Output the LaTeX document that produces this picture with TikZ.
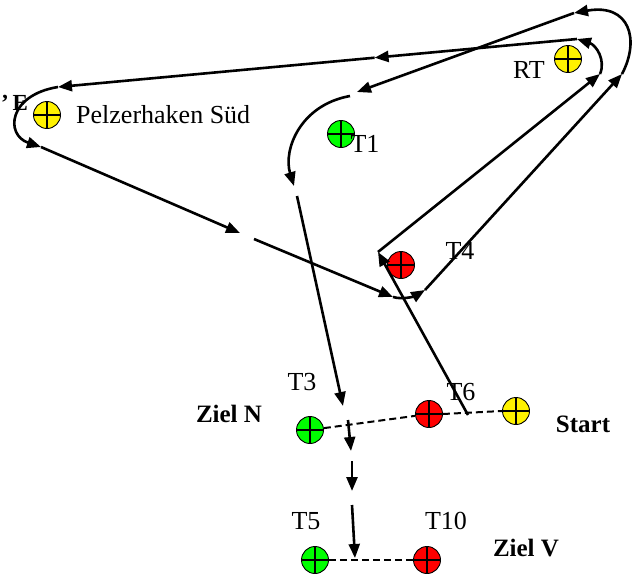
\documentclass[tikz,border=0pt]{standalone}
\usepackage{fontspec}
\setmainfont{Liberation Serif}
\usetikzlibrary{arrows.meta,calc}
\begin{document}
\begin{tikzpicture}[x=1pt,y=-1pt,
  mk/.style={circle,draw=black,line width=0.9pt,minimum size=27pt,inner sep=0pt,
    path picture={\draw[line width=1.1pt] (path picture bounding box.north)--(path picture bounding box.south) (path picture bounding box.west)--(path picture bounding box.east);}},
  ylw/.style={mk,fill=yellow}, grn/.style={mk,fill=green}, rd/.style={mk,fill=red},
  route/.style={line width=2.6pt,-{Triangle[length=14pt,width=11pt]}},
  lbl/.style={font=\fontsize{26}{30}\selectfont,inner sep=0pt},
  blbl/.style={font=\fontsize{25}{30}\selectfont\bfseries,inner sep=0pt},
  dsh/.style={line width=2pt,dash pattern=on 7pt off 4pt}]
\useasboundingbox (0,0) rectangle (641,574);

% markers
\node[ylw] (pel) at (47,115) {};
\node[ylw] (rt) at (568,59) {};
\node[grn] (t1) at (341,134) {};
\node[rd] (t4) at (401,265) {};
\node[grn] (t3) at (310,430) {};
\node[rd] (t6) at (429,414) {};
\node[ylw] (start) at (516,411) {};
\node[grn] (t5) at (315,560) {};
\node[rd] (t10) at (427,560) {};

% labels
\node[lbl,anchor=west] (lpel) at (76,115) {Pelzerhaken Süd};
\node[lbl] (lrt) at (529,70) {RT};
\node[lbl] (lt1) at (365,144) {T1};
\node[lbl] (lt4) at (460,251) {T4};
\node[lbl] (lt3) at (302,382) {T3};
\node[lbl] (lt6) at (461,392) {T6};
\node[lbl] (lt5) at (306,521) {T5};
\node[lbl] (lt10) at (446,521) {T10};
\node[blbl] (lzn) at (229,414) {Ziel N};
\node[blbl] (lst) at (583,424) {Start};
\node[blbl] (lzv) at (526,548) {Ziel V};
\node[font=\fontsize{23}{27}\selectfont\bfseries,inner sep=0pt,anchor=west] (le) at (1,103) {'\,E};

% dashed links
\draw[dsh] (t3) -- (t6);
\draw[dsh] (t6.east) -- (start.west);
\draw[dsh] (t5) -- (t10);

% waypoints
\coordinate (s0) at (468,415);
\coordinate (c1) at (378,252);
\coordinate (a1) at (600,74);
\coordinate (a2) at (577,39);
\coordinate (p1) at (58,87);
\coordinate (p2) at (41,147);
\coordinate (d1) at (240,233);
\coordinate (d2) at (254,239);
\coordinate (d3) at (393,297);
\coordinate (d4) at (425,290);
\coordinate (b1) at (622,74);
\coordinate (b2) at (574,13);
\coordinate (e1) at (357,92);
\coordinate (e2) at (350,96);
\coordinate (f1) at (294,186);
\coordinate (f2) at (297,196);
\coordinate (g1) at (343,406);
\coordinate (h1) at (348,420);
\coordinate (h2) at (351,451);
\coordinate (h3) at (352,461);
\coordinate (h4) at (352,491);
\coordinate (h5) at (352,505);
\coordinate (h6) at (355,558);
\coordinate (m1) at ($(a2)!0.39!(p1)$);

% route
\draw[route] (s0) -- (c1);
\draw[route] (c1) -- (a1);
\draw[route] (a1) .. controls (606,60) and (596,45) .. (a2);
\draw[route] (a2) -- (m1);
\draw[route] (m1) -- (p1);
\draw[route] (p1) .. controls (8,95) and (5,135) .. (p2);
\draw[route] (p2) -- (d1);
\draw[route] (d2) -- (d3);
\draw[route] (d3) .. controls (403,300) and (415,296) .. (d4);
\draw[route] (d4) -- (b1);
\draw[route] (b1) .. controls (640,40) and (630,3) .. (b2);
\draw[route] (b2) -- (e1);
\draw[route] (e2) .. controls (300,105) and (283,150) .. (f1);
\draw[route] (f2) -- (g1);
\draw[route] (h1) -- (h2);
\draw[route] (h3) -- (h4);
\draw[route] (h5) -- (h6);
\end{tikzpicture}
\end{document}
